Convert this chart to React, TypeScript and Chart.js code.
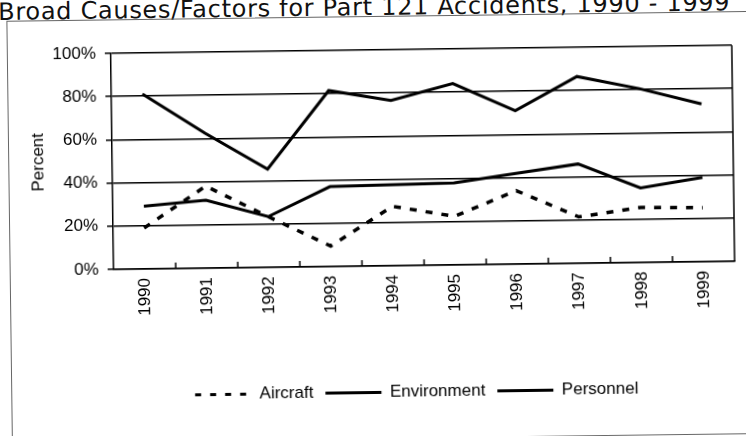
import React, { useEffect, useRef } from "react";
import { Chart, registerables } from "chart.js";

Chart.register(...registerables);

const titleText = "Broad Causes/Factors for Part 121 Accidents, 1990 - 1999";
const years = ["1990", "1991", "1992", "1993", "1994", "1995", "1996", "1997", "1998", "1999"];
const aircraft = [19, 38, 23.5, 9.5, 27.5, 22.5, 34, 21.5, 25.5, 25];
const environment = [29, 31.5, 23.5, 37, 37.5, 38, 42, 46, 34.5, 39];
const personnel = [81, 62.5, 45.5, 81.5, 76.5, 84, 71, 86.5, 80.5, 73];
const seriesNames = ["Aircraft", "Environment", "Personnel"];

const FONT = "'Liberation Sans', Arial, sans-serif";

const framePlugin = {
  id: "frameTicks",
  afterLayout(chart: any) {
    const lg = chart.legend;
    const ca = chart.chartArea;
    if (lg && ca) {
      lg.left = ca.left - 10;
      lg.right = ca.right - 8;
      lg.width = lg.right - lg.left;
    }
  },
  afterDraw(chart: any) {
    const { ctx, chartArea: ca } = chart;
    const x = chart.scales.x;
    ctx.save();
    ctx.strokeStyle = "#000";
    ctx.lineWidth = 1.5;
    ctx.beginPath();
    ctx.moveTo(ca.right, ca.top);
    ctx.lineTo(ca.right, ca.bottom);
    for (let i = 1; i <= years.length; i++) {
      const px = x.getPixelForValue(i - 0.5);
      ctx.moveTo(px, ca.bottom);
      ctx.lineTo(px, ca.bottom - 6);
    }
    ctx.stroke();
    ctx.restore();
  },
};

export default function App() {
  const ref = useRef<HTMLCanvasElement | null>(null);

  useEffect(() => {
    document.body.style.margin = "0";
    const canvas = ref.current!;
    const chart = new Chart(canvas, {
      type: "line",
      data: {
        labels: years,
        datasets: [
          {
            label: seriesNames[0],
            data: aircraft,
            borderColor: "#000",
            backgroundColor: "#000",
            borderWidth: 3.5,
            borderDash: [7, 9],
            pointRadius: 0,
            tension: 0,
          },
          {
            label: seriesNames[1],
            data: environment,
            borderColor: "#000",
            backgroundColor: "#000",
            borderWidth: 3,
            pointRadius: 0,
            tension: 0,
          },
          {
            label: seriesNames[2],
            data: personnel,
            borderColor: "#000",
            backgroundColor: "#000",
            borderWidth: 3,
            pointRadius: 0,
            tension: 0,
          },
        ],
      },
      options: {
        animation: false,
        responsive: false,
        devicePixelRatio: 1,
        layout: { padding: { top: 50, left: 0, right: 12, bottom: 25 } },
        plugins: {
          tooltip: { enabled: false },
          title: { display: false },
          legend: {
            position: "bottom",
            labels: {
              usePointStyle: true,
              pointStyle: "line",
              pointStyleWidth: 56,
              padding: 12,
              color: "#000",
              font: { family: FONT, size: 17 },
              generateLabels: (c: any) =>
                c.data.datasets.map((ds: any, i: number) => ({
                  text: ds.label,
                  fillStyle: "#000",
                  strokeStyle: "#000",
                  fontColor: "#000",
                  lineWidth: 3,
                  lineDash: i === 0 ? [6, 9] : [],
                  pointStyle: "line",
                  hidden: false,
                  datasetIndex: i,
                })),
            },
          },
        },
        scales: {
          x: {
            type: "category",
            offset: true,
            afterFit: (s: any) => {
              s.height = 106;
            },
            grid: { display: false, drawTicks: false, offset: true },
            border: { display: true, color: "#000", width: 1.5 },
            ticks: {
              minRotation: 90,
              maxRotation: 90,
              padding: 9,
              color: "#000",
              font: { family: FONT, size: 17 },
            },
          },
          y: {
            min: 0,
            max: 100,
            afterFit: (s: any) => {
              s.width = 113;
            },
            afterBuildTicks: (s: any) => {
              s.ticks = [0, 20, 40, 60, 80, 100].map((v) => ({ value: v }));
            },
            grid: {
              color: "#000",
              lineWidth: 1.5,
              drawTicks: true,
              tickLength: 6,
              tickColor: "#000",
            },
            border: { display: true, color: "#000", width: 1.5 },
            ticks: {
              padding: 9,
              color: "#000",
              font: { family: FONT, size: 17 },
              callback: (v: any) => v + "%",
            },
            title: {
              display: true,
              text: "Percent",
              color: "#000",
              font: { family: FONT, size: 17 },
              padding: { top: 29, bottom: 0 },
            },
          },
        },
      },
      plugins: [framePlugin],
    });
    return () => chart.destroy();
  }, []);

  return (
    <div
      style={{
        position: "fixed",
        left: 0,
        top: 0,
        width: 746,
        height: 436,
        overflow: "hidden",
        background: "#fff",
      }}
    >
      <div
        style={{
          position: "absolute",
          left: 0,
          top: 0,
          width: 746,
          height: 436,
          transform: "rotate(-0.75deg)",
          transformOrigin: "373px 218px",
        }}
      >
        <div
          style={{
            position: "absolute",
            left: 1,
            top: -5,
            whiteSpace: "nowrap",
            fontFamily: "'DejaVu Sans', sans-serif",
            fontSize: 24,
            lineHeight: "24px",
            color: "#111",
            letterSpacing: "0.7px",
          }}
        >
          {titleText}
        </div>
        <div
          style={{
            position: "absolute",
            left: 9,
            top: 16,
            width: 780,
            height: 421,
            border: "1px solid #666",
          }}
        />
        <canvas
          ref={ref}
          width={746}
          height={436}
          style={{ position: "absolute", left: 0, top: 0, width: 746, height: 436 }}
        />
      </div>
    </div>
  );
}
